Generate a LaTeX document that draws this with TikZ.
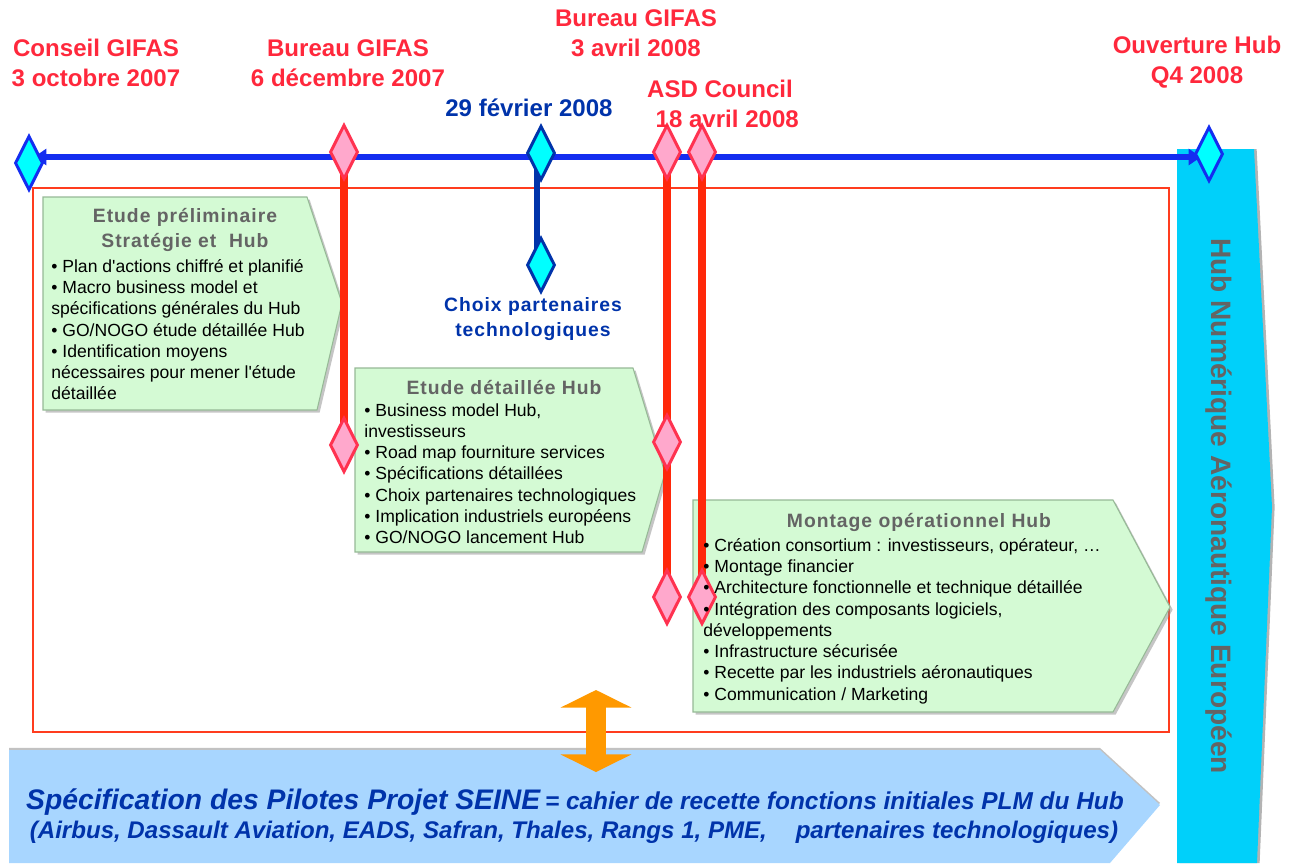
\documentclass[tikz,border=0pt]{standalone}
\usepackage{fontspec}
\setmainfont{Liberation Sans}
\newfontfamily\titlefont[LetterSpace=5]{Liberation Sans}
\usetikzlibrary{shapes.geometric,arrows.meta,shadows}

\definecolor{datered}{RGB}{255,40,60}
\definecolor{darkblue}{RGB}{0,51,170}
\definecolor{lineblue}{RGB}{20,45,240}
\definecolor{linered}{RGB}{255,40,10}
\definecolor{framered}{RGB}{255,60,30}
\definecolor{diapink}{RGB}{255,168,204}
\definecolor{diaedge}{RGB}{255,50,80}
\definecolor{diacyan}{RGB}{0,255,255}
\definecolor{boxgreen}{RGB}{212,250,212}
\definecolor{boxedge}{RGB}{150,185,150}
\definecolor{titlegray}{RGB}{100,100,100}
\definecolor{hubcyan}{RGB}{0,208,250}
\definecolor{banblue}{RGB}{168,214,255}
\definecolor{arrorange}{RGB}{255,153,0}

\newcommand\datefont{\fontsize{13.7}{17}\selectfont\bfseries}
\newcommand\itemfont{\fontsize{10}{12.1}\selectfont}
\newcommand\phasefont{\titlefont\fontsize{11}{14.7}\selectfont\bfseries}

\begin{document}
\begin{tikzpicture}[x=0.02cm, y=-0.02cm,
    dia/.style={shape=diamond, draw, line width=1.7pt, inner sep=0pt,
        minimum width=16pt, minimum height=31pt},
    pinkdia/.style={dia, draw=diaedge, fill=diapink},
    cyandia/.style={dia, draw=#1, fill=diacyan},
    datelabel/.style={font=\datefont, text=#1, align=center, inner sep=0pt},
    phase/.style={fill=boxgreen, draw=boxedge, line width=0.6pt,
        drop shadow={shadow xshift=1.5pt, shadow yshift=-1.5pt, fill=black!45, opacity=0.5}},
    phasetitle/.style={font=\phasefont, text=titlegray, align=center, inner sep=0pt},
    itemlist/.style={font=\itemfont, align=left, anchor=north west, inner sep=0pt},
    redline/.style={draw=linered, line width=4pt},
    timeline/.style={draw=lineblue, line width=3.4pt,
        {Triangle[length=7pt,width=9pt]}-{Triangle[length=7pt,width=9pt]}},
    bigarrow/.style={draw=arrorange, line width=11pt,
        {Triangle[length=10pt,width=40pt]}-{Triangle[length=10pt,width=40pt]}}
  ]
  \useasboundingbox (0,0) rectangle (1292,863);

  % hub arrow on the right and banner at the bottom
  \path[fill=hubcyan, drop shadow={shadow xshift=1.5pt, shadow yshift=0pt, fill=black!50, opacity=0.6}]
      (1177,149) -- (1254,149) -- (1272,507) -- (1257,863) -- (1177,863) -- cycle;
  \path[fill=banblue, drop shadow={shadow xshift=0pt, shadow yshift=1.2pt, fill=black!40, opacity=0.6}]
      (9,750) -- (1100,750) -- (1160,805) -- (1110,863) -- (9,863) -- cycle;

  \draw[framered, line width=0.85pt] (33,188) rectangle (1169,732);

  % phases
  \path[phase] (43,197) -- (307,197) -- (342,303) -- (317,410) -- (43,410) -- cycle;
  \path[phase] (355,368) -- (633,368) -- (665,473) -- (642,552) -- (355,552) -- cycle;
  \path[phase] (693,500) -- (1113,500) -- (1170,607) -- (1113,712) -- (693,712) -- cycle;

  \coordinate (ota) at (596,690);
  \coordinate (otb) at (596,772);
  \draw[bigarrow] (ota) -- (otb);

  % milestones
  \coordinate (tlL) at (34,157);
  \coordinate (tlR) at (1201,157);
  \foreach \n/\x/\y in {pa/344/152, pab/344/445, pb/667/152, pbb/667/442, pbc/667/597, pc/702/152, pcb/702/597}
    \coordinate (\n) at (\x,\y);
  \coordinate (ca) at (537,152);
  \coordinate (cab) at (537,265);

  \draw[redline] (pa) -- (pab);
  \draw[redline] (pb) -- (pbc);
  \draw[redline] (pc) -- (pcb);
  \draw[draw=darkblue, line width=3.2pt] (ca) -- (cab);
  \draw[timeline] (tlL) -- (tlR);

  \foreach \n in {pa, pab, pb, pbb, pbc, pc, pcb}
    \node[pinkdia] (d\n) at (\n) {};
  \node[cyandia=lineblue] (start) at (29,163) {};
  \node[cyandia=lineblue] (open) at (1209,154) {};
  \node[cyandia=darkblue] (feb) at (541,153) {};
  \node[cyandia=darkblue] (choix) at (541,265) {};

  % dates
  \node[datelabel=datered] (conseil) at (96,63) {Conseil GIFAS\\3 octobre 2007};
  \node[datelabel=datered] (burdec) at (348,63) {Bureau GIFAS\\6 décembre 2007};
  \node[datelabel=datered] (burapr) at (636,33) {Bureau GIFAS\\3 avril 2008};
  \node[datelabel=darkblue] (fevr) at (529,108) {29 février 2008};
  \node[datelabel=datered] (asd) at (720,104) {ASD Council\\\hspace*{0.6em}18 avril 2008};
  \node[datelabel=datered] (ouvr) at (1197,62) {Ouverture Hub\\Q4 2008};
  \node[phasetitle, text=darkblue] (choixtxt) at (533,319) {Choix partenaires\\technologiques};

  % phase texts
  \node[phasetitle] (t1) at (185,230) {Etude préliminaire\\Stratégie et\ \ Hub};
  \node[itemlist] (l1) at (51,259) {• Plan d\textquotesingle actions chiffré et planifié\\
    • Macro business model et\\spécifications générales du Hub\\
    • GO/NOGO étude détaillée Hub\\
    • Identification moyens\\nécessaires pour mener l\textquotesingle étude\\détaillée};

  \node[phasetitle] (t2) at (504,387) {Etude détaillée Hub};
  \node[itemlist] (l2) at (364,403) {• Business model Hub,\\investisseurs\\
    • Road map fourniture services\\
    • Spécifications détaillées\\
    • Choix partenaires technologiques\\
    • Implication industriels européens\\
    • GO/NOGO lancement Hub};

  \node[phasetitle] (t3) at (919,522) {Montage opérationnel Hub};
  \node[itemlist] (l3) at (703,538) {• Création consortium : investisseurs, opérateur, …\\
    • Montage financier\\
    • Architecture fonctionnelle et technique détaillée\\
    • Intégration des composants logiciels,\\développements\\
    • Infrastructure sécurisée\\
    • Recette par les industriels aéronautiques\\
    • Communication / Marketing};

  \node[rotate=-90, font=\fontsize{16}{19}\selectfont\bfseries, text=titlegray, inner sep=0pt]
      (hub) at (1219,506) {Hub Numérique Aéronautique Européen};

  \node[font=\bfseries\itshape, text=darkblue, inner sep=0pt] (spec) at (575,802)
      {{\fontsize{16.1}{17}\selectfont Spécification des Pilotes Projet SEINE} {\fontsize{13.9}{17}\selectfont = cahier de recette fonctions initiales PLM du Hub}};
  \node[font=\fontsize{13.7}{17}\selectfont\bfseries\itshape, text=darkblue, inner sep=0pt] (partners) at (574,832)
      {(Airbus, Dassault Aviation, EADS, Safran, Thales, Rangs 1, PME,\hspace{1.2em}partenaires technologiques)};
\end{tikzpicture}
\end{document}
